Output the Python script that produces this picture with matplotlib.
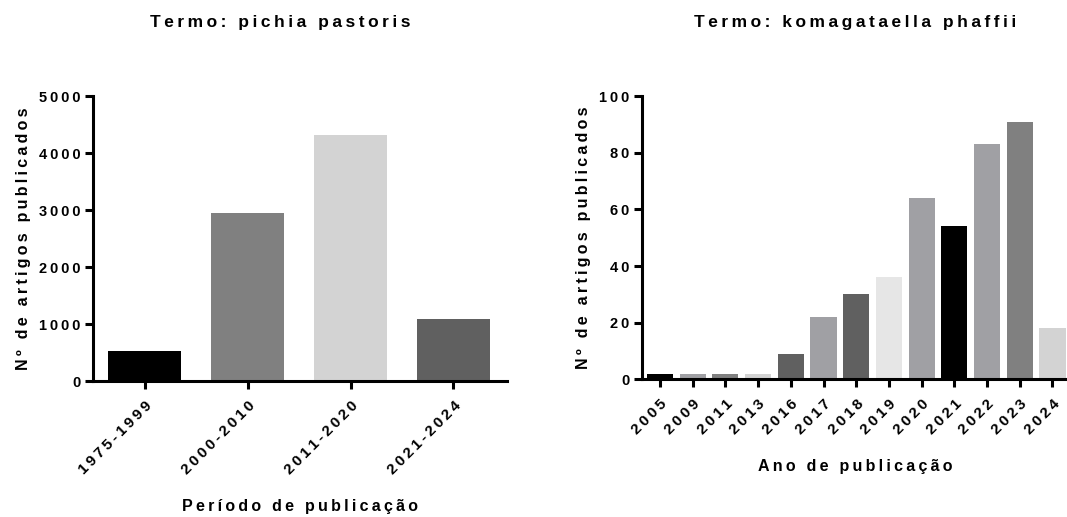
import matplotlib
matplotlib.use("Agg")
import matplotlib.pyplot as plt

plt.rcParams['font.family'] = ['Liberation Sans', 'DejaVu Sans']
plt.rcParams['font.weight'] = 'bold'
plt.rcParams['axes.labelweight'] = 'bold'

# data
periodos = ["1975-1999", "2000-2010", "2011-2020", "2021-2024"]
artigos_pichia = [530, 2950, 4320, 1080]
cores_pichia = ["#000000", "#808080", "#d3d3d3", "#606060"]

anos = ["2005", "2009", "2011", "2013", "2016", "2017", "2018",
        "2019", "2020", "2021", "2022", "2023", "2024"]
artigos_koma = [2, 2, 2, 2, 9, 22, 30, 36, 64, 54, 83, 91, 18]
cores_koma = ["#000000", "#a0a0a4", "#808080", "#d3d3d3", "#606060",
              "#a0a0a4", "#606060", "#e6e6e6", "#a0a0a4", "#000000",
              "#a0a0a4", "#808080", "#d3d3d3"]


def sp(s, gap="\u2009"):
    # fake letter spacing like the Prism export
    return gap.join(s)


def style(ax):
    for side in ["top", "right"]:
        ax.spines[side].set_visible(False)
    for side in ["left", "bottom"]:
        ax.spines[side].set_linewidth(2.2)
    ax.tick_params(axis="both", width=2.2, length=5.5, labelsize=10.5)
    ax.tick_params(axis="x", pad=7, labelsize=11)


fig = plt.figure(figsize=(10.67, 5.17), dpi=100)

# left panel
ax1 = fig.add_axes([0.0872, 0.263, 0.388, 0.551])
x1 = range(len(periodos))
ax1.bar(x1, artigos_pichia, width=0.7, color=cores_pichia)
ax1.set_xlim(-0.5, 3.52)
ax1.set_ylim(0, 5000)
ax1.set_yticks([0, 1000, 2000, 3000, 4000, 5000])
ax1.set_yticklabels([sp(str(v)) for v in [0, 1000, 2000, 3000, 4000, 5000]])
ax1.set_xticks(list(x1))
ax1.set_xticklabels([sp(p) for p in periodos], rotation=45, ha="right",
                    rotation_mode="anchor")
ax1.set_ylabel(sp("Nº de artigos publicados"), fontsize=11.5, labelpad=6)
ax1.set_xlabel(sp("Período de publicação"), fontsize=11.5, labelpad=16)
style(ax1)

# right panel
ax2 = fig.add_axes([0.6017, 0.266, 0.40, 0.548])
x2 = range(len(anos))
ax2.bar(x2, artigos_koma, width=0.8, color=cores_koma)
ax2.set_xlim(-0.55, 12.5)
ax2.set_ylim(0, 100)
ax2.set_yticks([0, 20, 40, 60, 80, 100])
ax2.set_yticklabels([sp(str(v)) for v in [0, 20, 40, 60, 80, 100]])
ax2.set_xticks(list(x2))
ax2.set_xticklabels([sp(a) for a in anos], rotation=45, ha="right",
                    rotation_mode="anchor")
ax2.set_ylabel(sp("Nº de artigos publicados"), fontsize=11.5, labelpad=6)
ax2.set_xlabel(sp("Ano de publicação"), fontsize=11.5, labelpad=16)
style(ax2)

fig.text(280 / 1067, 1 - 23 / 517, sp("Termo: pichia pastoris"),
         ha="center", va="center", fontsize=12.5, fontweight="bold")
fig.text(855 / 1067, 1 - 23 / 517, sp("Termo: komagataella phaffii"),
         ha="center", va="center", fontsize=12.5, fontweight="bold")

fig.savefig("out.png", dpi=100)
